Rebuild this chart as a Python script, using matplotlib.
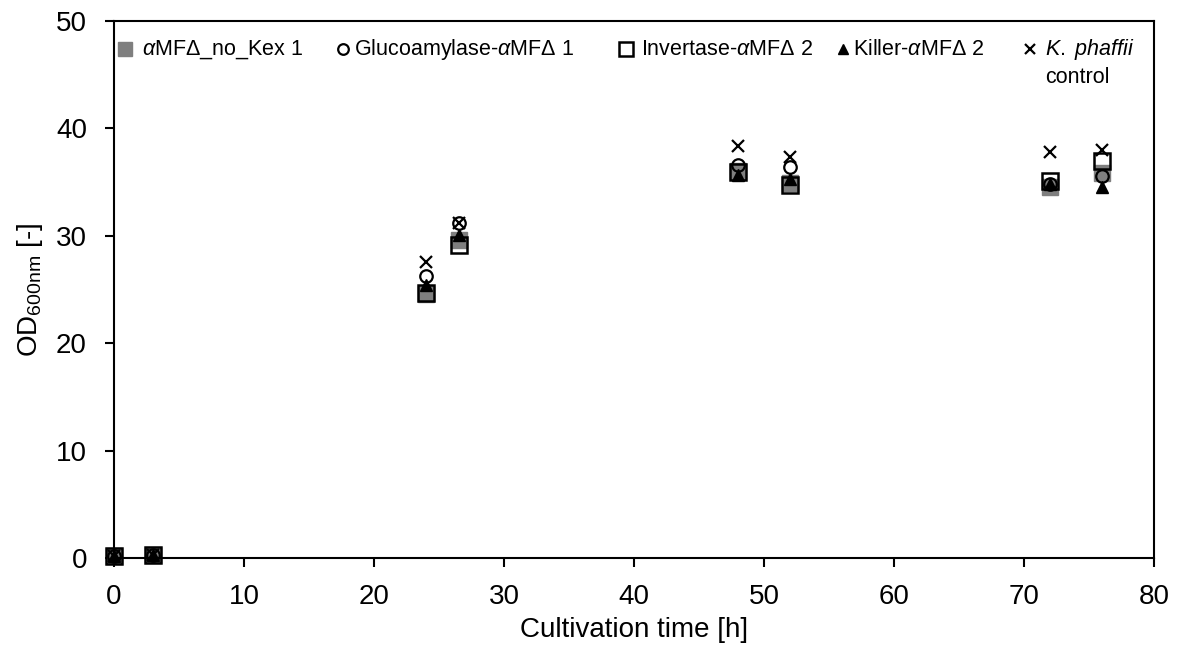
import matplotlib
matplotlib.use("Agg")
import matplotlib.pyplot as plt

plt.rcParams['font.family'] = ['Liberation Sans', 'DejaVu Sans']
plt.rcParams['mathtext.fontset'] = 'custom'
plt.rcParams['mathtext.rm'] = 'Liberation Sans'
plt.rcParams['mathtext.it'] = 'Liberation Sans:italic'

# sampling times [h]
time = [0, 3, 24, 26.5, 48, 52, 72, 76]

# OD600 per strain
no_kex = [0.2, 0.3, 24.6, 29.6, 36.0, 34.9, 34.5, 35.8]
glucoamylase = [0.2, 0.3, 26.3, 31.2, 36.6, 36.4, 34.8, 35.6]
invertase = [0.2, 0.3, 24.7, 29.1, 35.9, 34.7, 35.1, 37.0]
killer = [0.2, 0.3, 25.4, 30.1, 35.7, 35.3, 34.8, 34.5]
control = [0.2, 0.3, 27.6, 31.2, 38.4, 37.3, 37.8, 38.0]

labels = [r'$\mathit{α}$MFΔ_no_Kex 1',
          r'Glucoamylase-$\mathit{α}$MFΔ 1',
          r'Invertase-$\mathit{α}$MFΔ 2',
          r'Killer-$\mathit{α}$MFΔ 2',
          '$\\mathit{K.\\ phaffii}$\ncontrol']

styles = [
    dict(marker='s', ms=12, mfc='#7f7f7f', mec='#7f7f7f', mew=1),
    dict(marker='o', ms=9, mfc='none', mec='black', mew=1.6),
    dict(marker='s', ms=12, mfc='none', mec='black', mew=1.8),
    dict(marker='^', ms=9, mfc='black', mec='black', mew=1),
    dict(marker='x', ms=9, mfc='none', mec='black', mew=1.6),
]
series = [no_kex, glucoamylase, invertase, killer, control]

fig = plt.figure(figsize=(11.8, 6.52), dpi=100)
ax = fig.add_axes([0.0966, 0.1442, 0.8814, 0.8236])

for ys, st in zip(series, styles):
    ax.plot(time, ys, linestyle='none', clip_on=False, **st)

ax.set_xlim(0, 80)
ax.set_ylim(0, 50)
ax.set_xticks(range(0, 81, 10))
ax.set_yticks(range(0, 51, 10))
ax.tick_params(direction='out', length=6.5, width=1.5, labelsize=20)
ax.tick_params(axis='x', pad=12)
ax.tick_params(axis='y', pad=13)
for s in ax.spines.values():
    s.set_linewidth(1.5)

ax.set_xlabel('Cultivation time [h]', fontsize=20, labelpad=5)
ax.set_ylabel(r'OD$_{\mathregular{600nm}}$ [-]', fontsize=20, labelpad=8)

# legend drawn as a row of marker + text inside the axes
mark_x = [0.0106, 0.2202, 0.4923, 0.7010, 0.8808]
text_x = [0.0269, 0.2308, 0.5067, 0.7110, 0.8952]
leg_y = 0.947
for mx, tx, lab, st in zip(mark_x, text_x, labels, styles):
    st2 = dict(st)
    st2['ms'] = st['ms'] * 0.85
    ax.plot([mx], [leg_y], transform=ax.transAxes, linestyle='none', clip_on=False, **st2)
    first, *rest = lab.split('\n')
    ax.text(tx, leg_y, first, transform=ax.transAxes, fontsize=15.5,
            ha='left', va='center')
    for k, line in enumerate(rest, start=1):
        ax.text(tx, leg_y - 0.053 * k, line, transform=ax.transAxes, fontsize=15.5,
                ha='left', va='center')

fig.savefig('out.png', dpi=100)
